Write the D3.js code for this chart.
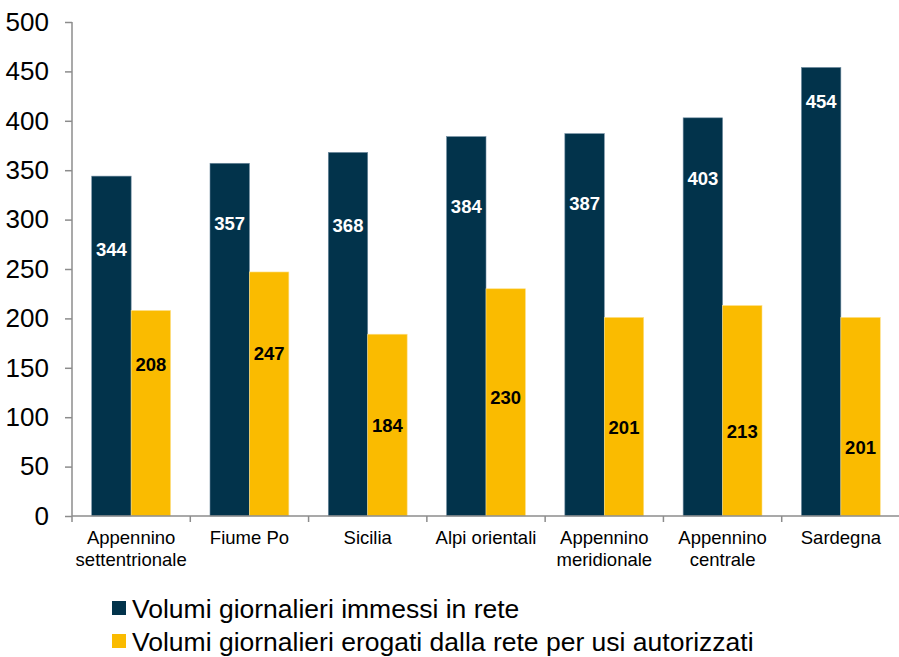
<!DOCTYPE html>
<meta charset="utf-8">
<head>
<script src="https://d3js.org/d3.v7.min.js"></script>
</head>
<style>
    html, body { margin: 0; background: white; }
    text { font-family: "Liberation Sans", Arial, sans-serif; }
    .axis path, .axis line { stroke: #8c8c8c; stroke-width: 1.5px; }
    .axis text { fill: #000; }
    .y-axis text { font-size: 26px; }
    .x-label { font-size: 18.5px; fill: #000; }
    .bar-label { font-size: 18.5px; font-weight: bold; }
    .legend text { font-size: 26.5px; fill: #000; }
</style>
<body>
<div id="chart"></div>
<script>

// data
var regions = [["Appennino", "settentrionale"], ["Fiume Po"], ["Sicilia"], ["Alpi orientali"],
               ["Appennino", "meridionale"], ["Appennino", "centrale"], ["Sardegna"]];
var seriesNames = ["Volumi giornalieri immessi in rete",
                   "Volumi giornalieri erogati dalla rete per usi autorizzati"];
var immessi = [344, 357, 368, 384, 387, 403, 454];
var erogati = [208, 247, 184, 230, 201, 213, 201];
var yTicks = [0, 50, 100, 150, 200, 250, 300, 350, 400, 450, 500];

// where each value label sits (in axis units), as hand placed in the original
var immessiLabelAt = [270, 296, 294, 313, 316, 342, 420];
var erogatiLabelAt = [153, 165, 92, 120, 90, 86, 70];

var colors = ["#02334b", "#fabb00"];
var labelColors = ["#ffffff", "#000000"];

var W = 899, H = 657;
var margin = {top: 22, right: 0, bottom: 141, left: 72},
    width = W - margin.left - margin.right + 1,
    height = H - margin.top - margin.bottom;

var svg = d3.select("#chart").append("svg")
    .attr("width", W)
    .attr("height", H);

var g = svg.append("g")
    .attr("transform", "translate(" + margin.left + "," + margin.top + ")");

var keys = regions.map(function(d) { return d.join(" "); });

var x0 = d3.scaleBand().domain(keys).range([0, width]).padding(0);
var x1 = d3.scaleBand().domain([0, 1]).range([0, x0.bandwidth()]).paddingInner(0).paddingOuter(0.5);
var y = d3.scaleLinear().domain([0, 500]).range([height, 0]);

var rows = keys.map(function(k, i) {
    return {key: k, lines: regions[i], values: [immessi[i], erogati[i]], labelAt: [immessiLabelAt[i], erogatiLabelAt[i]]};
});

// bars
var groups = g.selectAll(".group")
    .data(rows)
  .enter().append("g")
    .attr("class", "group")
    .attr("transform", function(d) { return "translate(" + x0(d.key) + ",0)"; });

groups.selectAll("rect")
    .data(function(d) { return d.values.map(function(v, s) { return {s: s, v: v}; }); })
  .enter().append("rect")
    .attr("x", function(d) { return x1(d.s); })
    .attr("y", function(d) { return y(d.v); })
    .attr("width", x1.bandwidth())
    .attr("height", function(d) { return height - y(d.v); })
    .attr("fill", function(d) { return colors[d.s]; })
    .attr("stroke", function(d) { return d.s === 0 ? "#6f8ba0" : "#fde08a"; })
    .attr("stroke-width", 0.6);

groups.selectAll(".bar-label")
    .data(function(d) { return d.values.map(function(v, s) { return {s: s, v: v, at: d.labelAt[s]}; }); })
  .enter().append("text")
    .attr("class", "bar-label")
    .attr("x", function(d) { return x1(d.s) + x1.bandwidth() / 2; })
    .attr("y", function(d) { return y(d.at); })
    .attr("dy", "0.36em")
    .attr("text-anchor", "middle")
    .attr("fill", function(d) { return labelColors[d.s]; })
    .text(function(d) { return d.v; });

// y axis
var yAxis = g.append("g")
    .attr("class", "axis y-axis")
    .call(d3.axisLeft(y).tickValues(yTicks).tickSize(7).tickSizeOuter(0).tickPadding(16));
yAxis.select(".domain").attr("d", "M0," + height + "V0");

// x axis with ticks between the categories
var xAxis = g.append("g")
    .attr("class", "axis x-axis")
    .attr("transform", "translate(0," + height + ")");
xAxis.append("line")
    .attr("x1", 0).attr("x2", width)
    .attr("y1", 0).attr("y2", 0);
xAxis.selectAll(".sep")
    .data(keys)
  .enter().append("line")
    .attr("class", "sep")
    .attr("x1", function(d) { return x0(d); })
    .attr("x2", function(d) { return x0(d); })
    .attr("y1", 0).attr("y2", 6);

var xl = xAxis.selectAll(".x-label")
    .data(rows)
  .enter().append("text")
    .attr("class", "x-label")
    .attr("text-anchor", "middle")
    .attr("transform", function(d) { return "translate(" + (x0(d.key) + x0.bandwidth() / 2) + ",0)"; });
xl.selectAll("tspan")
    .data(function(d) { return d.lines; })
  .enter().append("tspan")
    .attr("x", 0)
    .attr("y", function(d, i) { return 28 + i * 22; })
    .text(function(d) { return d; });

// legend
var legend = svg.append("g")
    .attr("class", "legend")
    .attr("transform", "translate(112,601)");
var li = legend.selectAll("g")
    .data(seriesNames)
  .enter().append("g")
    .attr("transform", function(d, i) { return "translate(0," + i * 33 + ")"; });
li.append("rect")
    .attr("width", 14).attr("height", 14)
    .attr("fill", function(d, i) { return colors[i]; });
li.append("text")
    .attr("x", 20)
    .attr("y", 7)
    .attr("dy", "0.36em")
    .text(function(d) { return d; });

</script>
</body>
